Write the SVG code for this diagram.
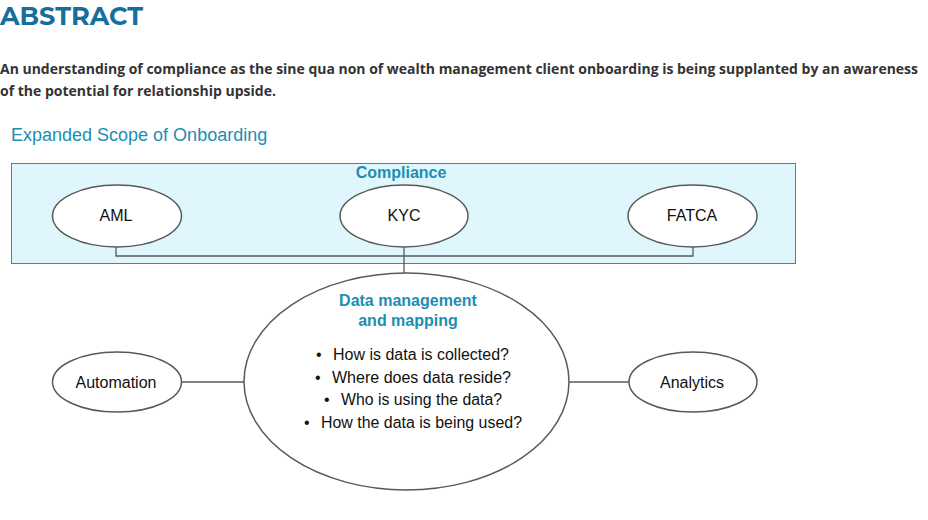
<svg xmlns="http://www.w3.org/2000/svg" width="928" height="520" viewBox="0 0 928 520">
<style>
.node ellipse{fill:#fff;stroke:#595959;stroke-width:1.5}
.lbl{font-family:"Liberation Sans",Arial,sans-serif;font-size:16px;fill:#111;text-anchor:middle}
.bl{font-family:"Liberation Sans",Arial,sans-serif;font-size:16px;fill:#111}
.hd{font-family:"Liberation Sans",Arial,sans-serif;font-size:16px;font-weight:bold;fill:#1b8eb3;text-anchor:middle}
.conn{fill:none;stroke:#595959;stroke-width:1.3}
.para{font-family:"Open Sans","Noto Sans",sans-serif;font-size:14px;font-weight:bold;fill:#333}
</style>
<rect width="928" height="520" fill="#fff"/>
<text x="0" y="25" font-family="Montserrat,'Open Sans','Liberation Sans',sans-serif" font-size="25" font-weight="bold" fill="#166e9c" textLength="143" lengthAdjust="spacingAndGlyphs">ABSTRACT</text>
<text class="para" x="0" y="74" textLength="918" lengthAdjust="spacingAndGlyphs">An understanding of compliance as the sine qua non of wealth management client onboarding is being supplanted by an awareness</text>
<text class="para" x="0" y="96" textLength="276" lengthAdjust="spacingAndGlyphs">of the potential for relationship upside.</text>
<text x="11" y="141" font-family="'Liberation Sans',Arial,sans-serif" font-size="18" fill="#1b8eb3">Expanded Scope of Onboarding</text>
<g id="compliance">
<rect x="11.5" y="163.5" width="784" height="100" fill="#dff7fc" stroke="#2196b0" stroke-width="1"/>
<text class="hd" x="401" y="178">Compliance</text>
</g>
<g id="connectors">
<polyline class="conn" points="116,247 116,256 693,256 693,247"/>
<line class="conn" x1="404" y1="247" x2="404" y2="273"/>
<line class="conn" x1="182" y1="382" x2="244" y2="382"/>
<line class="conn" x1="569" y1="382" x2="629" y2="382"/>
</g>
<g id="aml" class="node"><ellipse cx="117" cy="216" rx="64.5" ry="31"/><text class="lbl" x="116" y="221">AML</text></g>
<g id="kyc" class="node"><ellipse cx="404" cy="216" rx="64" ry="31"/><text class="lbl" x="404" y="221">KYC</text></g>
<g id="fatca" class="node"><ellipse cx="692.5" cy="216" rx="64.5" ry="31"/><text class="lbl" x="692" y="221">FATCA</text></g>
<g id="data" class="node">
<ellipse cx="406.5" cy="381.5" rx="162.5" ry="108.5"/>
<text class="hd" x="408" y="306">Data management</text>
<text class="hd" x="408" y="326">and mapping</text>
<text class="bl" x="316" y="360">•</text><text class="bl" x="333" y="360" textLength="176" lengthAdjust="spacingAndGlyphs">How is data is collected?</text>
<text class="bl" x="315" y="383">•</text><text class="bl" x="332" y="383" textLength="179" lengthAdjust="spacingAndGlyphs">Where does data reside?</text>
<text class="bl" x="324" y="405">•</text><text class="bl" x="341" y="405" textLength="161" lengthAdjust="spacingAndGlyphs">Who is using the data?</text>
<text class="bl" x="304" y="428">•</text><text class="bl" x="321" y="428" textLength="201" lengthAdjust="spacingAndGlyphs">How the data is being used?</text>
</g>
<g id="automation" class="node"><ellipse cx="117" cy="382" rx="64.5" ry="30"/><text class="lbl" x="116" y="388">Automation</text></g>
<g id="analytics" class="node"><ellipse cx="693" cy="382" rx="64" ry="30"/><text class="lbl" x="692" y="388">Analytics</text></g>
</svg>
